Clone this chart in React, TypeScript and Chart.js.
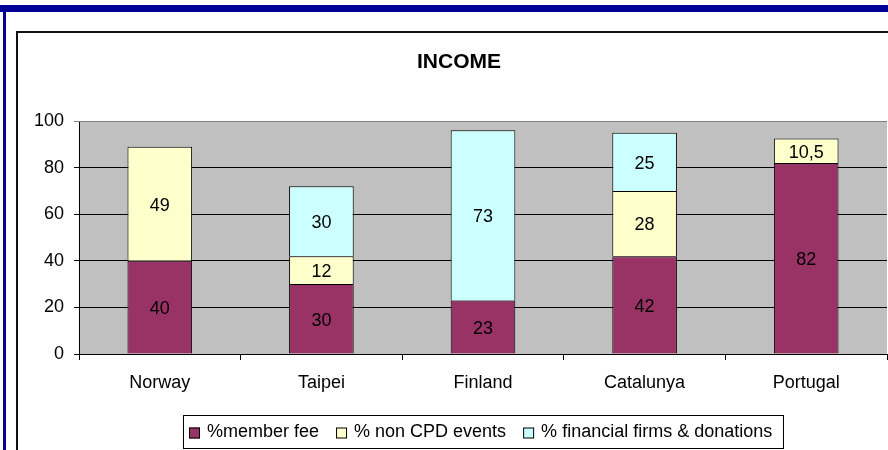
import React, { useEffect, useRef } from "react";
import { Chart, registerables } from "chart.js";

Chart.register(...registerables);

const categories = ["Norway", "Taipei", "Finland", "Catalunya", "Portugal"];
const memberFee = [40, 30, 23, 42, 82];
const nonCpdEvents = [49, 12, 0, 28, 10.5];
const financialFirms = [0, 30, 73, 25, 0];
const seriesNames = ["%member fee", "% non CPD events", "% financial firms & donations"];
const seriesColors = ["#993366", "#FFFFCC", "#CCFFFF"];
const yTicks = [0, 20, 40, 60, 80, 100];
const chartTitle = "INCOME";

const FONT = "Arial, 'Liberation Sans', sans-serif";

const decorPlugin = {
  id: "decor",
  beforeDraw(chart: any) {
    const { ctx, chartArea } = chart;
    ctx.save();
    ctx.fillStyle = "#ffffff";
    ctx.fillRect(0, 0, chart.width, chart.height);
    // navy frame
    ctx.fillStyle = "#000099";
    ctx.fillRect(0, 5, chart.width, 7);
    ctx.fillRect(3, 5, 3, chart.height - 5);
    // black chart frame
    ctx.fillStyle = "#111111";
    ctx.fillRect(16, 31, 2, chart.height - 31);
    ctx.fillRect(16, 31, chart.width - 16, 2);
    // plot background
    ctx.fillStyle = "#C0C0C0";
    ctx.fillRect(chartArea.left, chartArea.top, chartArea.right - chartArea.left, chartArea.bottom - chartArea.top);
    ctx.restore();
  },
  afterDraw(chart: any) {
    const { ctx, chartArea } = chart;
    ctx.save();
    // top border of plot (gray)
    ctx.strokeStyle = "#808080";
    ctx.lineWidth = 1;
    ctx.beginPath();
    ctx.moveTo(chartArea.left, chartArea.top + 0.5);
    ctx.lineTo(chartArea.right, chartArea.top + 0.5);
    ctx.stroke();
    // title
    ctx.fillStyle = "#000";
    ctx.font = `bold 21px ${FONT}`;
    ctx.textAlign = "center";
    ctx.textBaseline = "middle";
    ctx.fillText(chartTitle, 459, 62);
    // data labels
    ctx.font = `18px ${FONT}`;
    chart.data.datasets.forEach((ds: any, di: number) => {
      const meta = chart.getDatasetMeta(di);
      meta.data.forEach((bar: any, i: number) => {
        const v = ds.data[i];
        if (!v) return;
        const y = (bar.y + bar.base) / 2;
        ctx.fillText(String(v).replace(".", ","), bar.x, y + 2);
      });
    });
    // legend
    const lx = 183, ly = 415, lw = 600, lh = 33;
    ctx.fillStyle = "#fff";
    ctx.fillRect(lx, ly, lw, lh);
    ctx.strokeStyle = "#000";
    ctx.lineWidth = 1;
    ctx.strokeRect(lx + 0.5, ly + 0.5, lw, lh);
    ctx.font = `18px ${FONT}`;
    ctx.textAlign = "left";
    let x = lx + 6;
    const cy = ly + lh / 2 + 1;
    seriesNames.forEach((name, i) => {
      ctx.fillStyle = seriesColors[i];
      ctx.fillRect(x, cy - 5, 11, 11);
      ctx.strokeStyle = "#000";
      ctx.strokeRect(x + 0.5, cy - 5 + 0.5, 10, 10);
      ctx.fillStyle = "#000";
      ctx.fillText(name, x + 18, cy);
      x += 18 + ctx.measureText(name).width + 17;
    });
    ctx.restore();
  },
};

export default function App() {
  const ref = useRef<HTMLCanvasElement>(null);
  useEffect(() => {
    document.body.style.margin = "0";
    const data = [memberFee, nonCpdEvents, financialFirms];
    const chart = new Chart(ref.current!, {
      type: "bar",
      data: {
        labels: categories,
        datasets: seriesNames.map((name, i) => ({
          label: name,
          data: data[i],
          backgroundColor: seriesColors[i],
          borderColor: "#000",
          borderWidth: 1,
          barPercentage: 0.4,
          categoryPercentage: 1,
        })),
      },
      options: {
        animation: false,
        responsive: false,
        devicePixelRatio: 1,
        layout: { padding: { left: 16, top: 121, right: 1, bottom: 56 } },
        plugins: { legend: { display: false }, title: { display: false }, tooltip: { enabled: false } },
        scales: {
          x: {
            stacked: true,
            afterFit: (a: any) => { a.height = 40; },
            grid: { drawOnChartArea: false, color: "#000", tickLength: 6, offset: true },
            border: { color: "#000" },
            ticks: { color: "#000", font: { family: FONT, size: 18 }, padding: 12 },
          },
          y: {
            stacked: true,
            min: 0,
            max: 100,
            afterFit: (a: any) => { a.width = 63; },
            afterBuildTicks: (a: any) => { a.ticks = yTicks.map((v) => ({ value: v })); },
            grid: {
              color: (c: any) => (c.tick && c.tick.value === 100 ? "#808080" : "#000"),
              tickLength: 5,
            },
            border: { color: "#000" },
            ticks: { color: "#000", font: { family: FONT, size: 18 }, padding: 10, stepSize: 20 },
          },
        },
      },
      plugins: [decorPlugin],
    });
    return () => chart.destroy();
  }, []);
  return (
    <div style={{ position: "absolute", left: 0, top: 0, width: 888, height: 450 }}>
      <canvas ref={ref} width={888} height={450} />
    </div>
  );
}
